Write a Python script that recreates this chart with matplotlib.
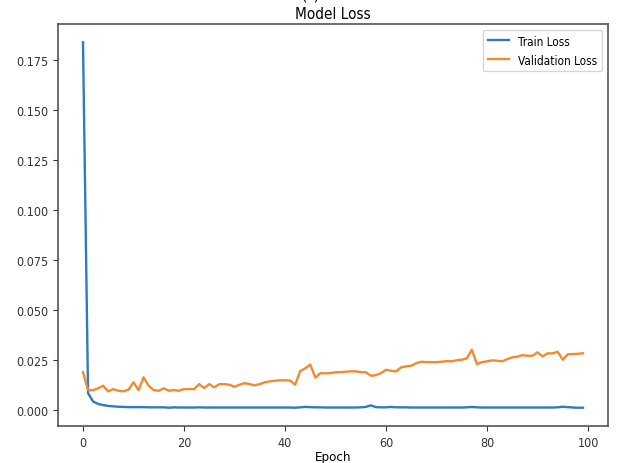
import numpy as np
import matplotlib
matplotlib.use('Agg')
import matplotlib.pyplot as plt

plt.rcParams['font.family'] = ['DejaVu Sans']
plt.rcParams['font.stretch'] = 'condensed'

epochs = list(range(100))

train_loss = [0.184, 0.0085, 0.0043, 0.0031, 0.0025, 0.0021, 0.0019, 0.0017, 0.0016, 0.0015,
              0.0015, 0.0015, 0.0015, 0.0014, 0.0014, 0.0014, 0.0014, 0.0012, 0.0014, 0.0013,
              0.0013, 0.0013, 0.0013, 0.0014, 0.0013, 0.0013, 0.0013, 0.0013, 0.0013, 0.0013,
              0.0013, 0.0013, 0.0013, 0.0013, 0.0013, 0.0013, 0.0013, 0.0013, 0.0013, 0.0013,
              0.0013, 0.0013, 0.0012, 0.0014, 0.0016, 0.0015, 0.0014, 0.0014, 0.0013, 0.0013,
              0.0013, 0.0013, 0.0013, 0.0013, 0.0013, 0.0014, 0.0016, 0.0024, 0.0015, 0.0014,
              0.0014, 0.0016, 0.0014, 0.0014, 0.0014, 0.0013, 0.0013, 0.0013, 0.0013, 0.0013,
              0.0013, 0.0013, 0.0013, 0.0013, 0.0013, 0.0013, 0.0014, 0.0016, 0.0014, 0.0013,
              0.0013, 0.0013, 0.0013, 0.0013, 0.0013, 0.0013, 0.0013, 0.0013, 0.0013, 0.0013,
              0.0013, 0.0013, 0.0013, 0.0013, 0.0014, 0.0017, 0.0015, 0.0013, 0.0012, 0.0012]

val_loss = [0.0190, 0.0100, 0.0100, 0.0109, 0.0122, 0.0094, 0.0105, 0.0097, 0.0094, 0.0102,
            0.0139, 0.0100, 0.0164, 0.0122, 0.0100, 0.0097, 0.0109, 0.0097, 0.0100, 0.0097,
            0.0105, 0.0105, 0.0105, 0.0130, 0.0110, 0.0130, 0.0114, 0.0130, 0.0130, 0.0127,
            0.0117, 0.0127, 0.0135, 0.0130, 0.0124, 0.0130, 0.0139, 0.0144, 0.0147, 0.0149,
            0.0149, 0.0148, 0.0127, 0.0195, 0.0209, 0.0228, 0.0162, 0.0185, 0.0184, 0.0185,
            0.0189, 0.0190, 0.0192, 0.0194, 0.0194, 0.0190, 0.0189, 0.0172, 0.0175, 0.0185,
            0.0202, 0.0197, 0.0194, 0.0214, 0.0219, 0.0222, 0.0235, 0.0242, 0.0240, 0.0240,
            0.0240, 0.0242, 0.0245, 0.0244, 0.0249, 0.0252, 0.0259, 0.0302, 0.0230, 0.0240,
            0.0244, 0.0249, 0.0247, 0.0244, 0.0255, 0.0264, 0.0267, 0.0275, 0.0272, 0.0272,
            0.0289, 0.0269, 0.0284, 0.0284, 0.0292, 0.0252, 0.0280, 0.0280, 0.0282, 0.0284]

fig = plt.figure(figsize=(6.18, 4.64), dpi=100)
ax = fig.add_axes([58/618, 1-427/464, 550/618, 402/464])

ax.plot(epochs, train_loss, c='#2f7bbf', lw=1.7, label='Train Loss')
ax.plot(epochs, val_loss, c='#f28a30', lw=1.7, label='Validation Loss')

ax.set_yticks([0.0, 0.025, 0.05, 0.075, 0.1, 0.125, 0.15, 0.175])
ax.set_xticks([0, 20, 40, 60, 80, 100])
ax.tick_params(labelsize=9, colors='#333333')
for s in ax.spines.values():
    s.set_color('#555555')
    s.set_linewidth(1.2)

ax.set_title('Model Loss', fontsize=11, pad=4)
ax.set_xlabel('Epoch', fontsize=9.5, labelpad=1)
ax.legend(loc='upper right', fontsize=8.5, handlelength=1.8)

fig.text(311/618, 1 + 1/464, '(c)', ha='center', va='baseline', fontsize=11)

plt.savefig('out.png', dpi=100)
